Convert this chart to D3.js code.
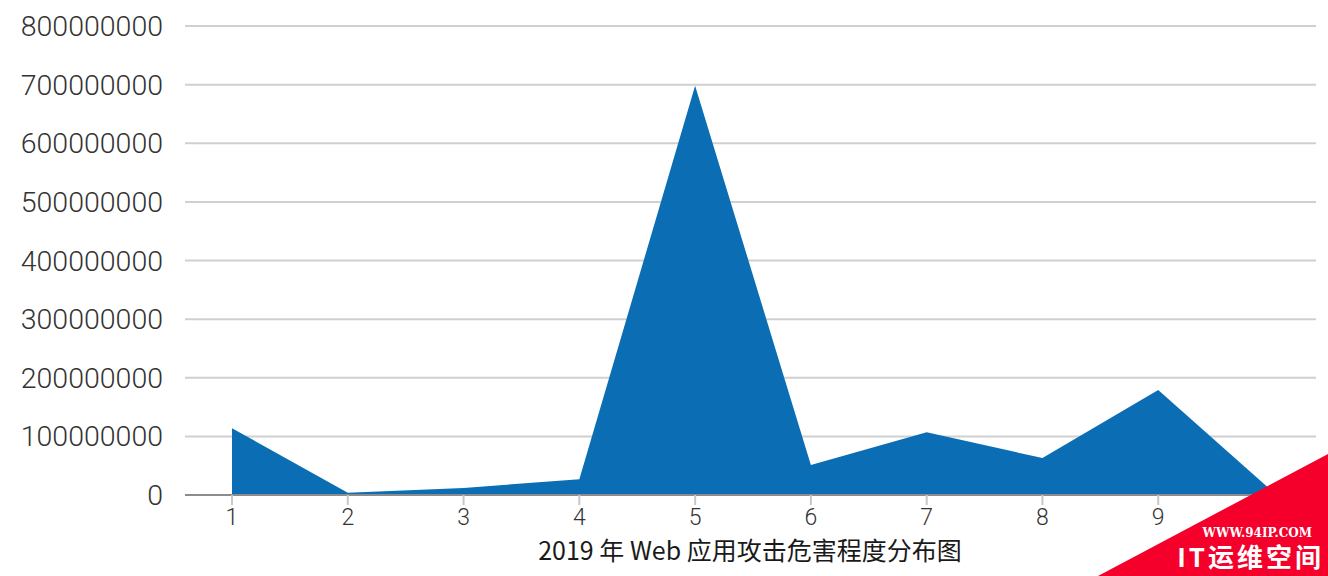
<!DOCTYPE html>
<html><head><meta charset="utf-8">
<script src="https://cdn.jsdelivr.net/npm/d3@7/dist/d3.min.js"></script>
<style>
html,body{margin:0;padding:0;background:#fff;}
svg{display:block;}
</style></head>
<body>
<svg id="chart" width="1328" height="576"></svg>
<script>
const categories = ["1","2","3","4","5","6","7","8","9","10"];
const values = [114000000, 4000000, 12000000, 27000000, 698000000, 51000000, 107000000, 63000000, 179000000, 4000000];
const yTicks = [0,100000000,200000000,300000000,400000000,500000000,600000000,700000000,800000000];
const xTitle = "2019 年 Web 应用攻击危害程度分布图";
const wmUrl = "WWW.94IP.COM";
const wmName = "IT运维空间";

(function(){
const svg = d3.select("#chart");
const mLeft = 185, mRight = 1316, mTop = 26, mBottom = 495;
const x = d3.scalePoint().domain(categories).range([232, 1274]);
const y = d3.scaleLinear().domain([0, 800000000]).range([mBottom, mTop]);

// gridlines
svg.append("g").selectAll("line").data(yTicks.filter(d=>d>0)).join("line")
  .attr("x1", mLeft).attr("x2", mRight)
  .attr("y1", d=>y(d)).attr("y2", d=>y(d))
  .attr("stroke", "#d0d0d0").attr("stroke-width", 2);

// y labels
svg.append("g").selectAll("text").data(yTicks).join("text")
  .attr("x", 163).attr("y", d=>y(d)+10)
  .attr("text-anchor","end")
  .attr("font-family","Roboto, 'Noto Sans', sans-serif")
  .attr("font-weight",300)
  .attr("font-size",28.5)
  .attr("fill","#333")
  .text(d=>String(d));

// area
const area = d3.area().x((d,i)=>x(categories[i])).y0(y(0)).y1(d=>y(d));
svg.append("path").datum(values).attr("d", area).attr("fill","#0b6eb4");

// x axis
svg.append("line").attr("x1", mLeft).attr("x2", mRight).attr("y1", mBottom).attr("y2", mBottom)
  .attr("stroke","#8c8c8c").attr("stroke-width",2);
svg.append("g").selectAll("line").data(categories).join("line")
  .attr("x1", d=>x(d)).attr("x2", d=>x(d)).attr("y1", mBottom).attr("y2", mBottom+10)
  .attr("stroke","#c8c8c8").attr("stroke-width",2);
svg.append("g").selectAll("text").data(categories).join("text")
  .attr("x", d=>x(d)).attr("y", 525)
  .attr("text-anchor","middle")
  .attr("font-family","Roboto, 'Noto Sans', sans-serif")
  .attr("font-weight",300)
  .attr("font-size",23)
  .attr("fill","#333")
  .text(d=>d);

svg.append("text").attr("x", 750).attr("y", 560)
  .attr("text-anchor","middle")
  .attr("font-family","'Noto Sans CJK SC', 'Noto Sans', sans-serif")
  .attr("font-size",25)
  .attr("fill","#1a1a1a")
  .text(xTitle);

// watermark
svg.append("path").attr("d","M1098,576 L1328,454 L1328,576 Z").attr("fill","#f4002b");
svg.append("text").attr("x",1312).attr("y",537).attr("text-anchor","end")
  .attr("font-family","'DejaVu Serif', serif").attr("font-weight","bold").attr("font-size",12)
  .attr("fill","#fff").text(wmUrl);
svg.append("text").attr("x",1324).attr("y",567).attr("text-anchor","end")
  .attr("font-family","'Noto Sans CJK SC', sans-serif").attr("font-weight","bold").attr("font-size",26)
  .attr("letter-spacing",3)
  .attr("fill","#fff").text(wmName);
})();
</script>
</body></html>
